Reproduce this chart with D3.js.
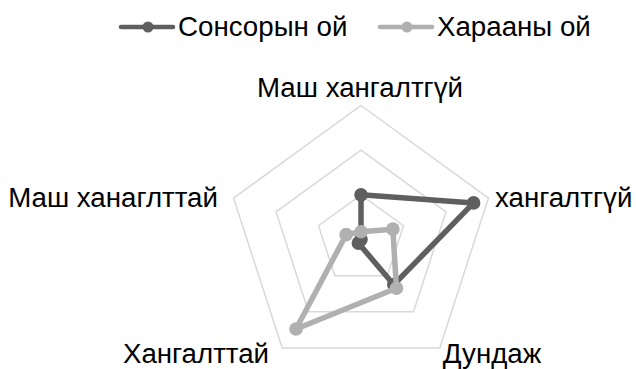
<!DOCTYPE html>
<html>
<head>
<meta charset="utf-8">
<script src="https://cdn.jsdelivr.net/npm/d3@7"></script>
<style>
  body { margin: 0; background: #fff; }
  text { font-family: "Liberation Sans", Arial, sans-serif; fill: #000; }
</style>
</head>
<body>
<script>
// axis categories, clockwise from the top
const categories = ["Маш хангалтгүй", "хангалтгүй", "Дундаж", "Хангалттай", "Маш ханаглттай"];
const seriesNames = ["Сонсорын ой", "Харааны ой"];
const hearingValues = [20, 53, 25, 2, 0];
const visionValues = [3.5, 15, 27, 49.5, 7];
const gridLevels = [20, 40, 60];

(function() {
  const width = 636, height = 369;
  const cx = 361, cy = 239.5, radius = 134;
  const colors = ["#5f5f5f", "#b0b0b0"];
  const fontSize = 27.7;

  const svg = d3.select("body").append("svg")
    .attr("width", width)
    .attr("height", height);

  const r = d3.scaleLinear().domain([0, d3.max(gridLevels)]).range([0, radius]);
  const angle = d3.scalePoint().domain(categories).range([0, 2 * Math.PI * 4 / 5]);

  const pos = (cat, v) => {
    const a = angle(cat);
    return [cx + r(v) * Math.sin(a), cy - r(v) * Math.cos(a)];
  };

  // grid pentagons
  const g = svg.append("g");
  gridLevels.forEach(lv => {
    g.append("polygon")
      .attr("points", categories.map(c => pos(c, lv).join(",")).join(" "))
      .attr("fill", "none")
      .attr("stroke", "#d9d9d9")
      .attr("stroke-width", 1.5);
  });

  // category labels
  const labelPos = [
    { x: 360, y: 97, anchor: "middle" },
    { x: 495, y: 207, anchor: "start" },
    { x: 492, y: 363, anchor: "middle" },
    { x: 196, y: 363, anchor: "middle" },
    { x: 218, y: 207, anchor: "end" }
  ];
  categories.forEach((c, i) => {
    svg.append("text")
      .attr("x", labelPos[i].x)
      .attr("y", labelPos[i].y)
      .attr("text-anchor", labelPos[i].anchor)
      .attr("font-size", fontSize)
      .text(c);
  });

  // series
  const series = [hearingValues, visionValues];
  const line = d3.line().curve(d3.curveLinearClosed);
  series.forEach((vals, si) => {
    const pts = categories.map((c, i) => pos(c, vals[i]));
    svg.append("path")
      .attr("d", line(pts))
      .attr("fill", "none")
      .attr("stroke", colors[si])
      .attr("stroke-width", 5.5)
      .attr("stroke-linejoin", "round");
    svg.selectAll(null)
      .data(pts)
      .enter().append("circle")
      .attr("cx", d => d[0])
      .attr("cy", d => d[1])
      .attr("r", 6.8)
      .attr("fill", colors[si]);
  });

  // legend
  const legend = [
    { x: 121, tx: 178 },
    { x: 380, tx: 437 }
  ];
  seriesNames.forEach((name, i) => {
    const lg = svg.append("g");
    lg.append("line")
      .attr("x1", legend[i].x).attr("x2", legend[i].x + 52)
      .attr("y1", 27).attr("y2", 27)
      .attr("stroke", colors[i])
      .attr("stroke-width", 4.5)
      .attr("stroke-linecap", "round");
    lg.append("circle")
      .attr("cx", legend[i].x + 27).attr("cy", 27)
      .attr("r", 5.5)
      .attr("fill", colors[i]);
    lg.append("text")
      .attr("x", legend[i].tx)
      .attr("y", 36)
      .attr("font-size", fontSize)
      .text(name);
  });
})();
</script>
</body>
</html>
